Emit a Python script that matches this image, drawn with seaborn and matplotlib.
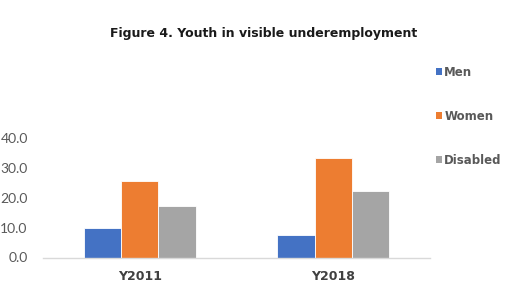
import matplotlib
matplotlib.use("Agg")
import matplotlib.pyplot as plt
import seaborn as sns
import pandas as pd
from matplotlib.patches import Patch

# values
years = ["Y2011", "Y2018"]
groups = ["Men", "Women", "Disabled"]
men = [9.8, 7.6]
women = [25.7, 33.3]
disabled = [17.4, 22.1]
colors = ["#4472C4", "#ED7D31", "#A5A5A5"]

df = pd.DataFrame({
    "year": years * 3,
    "group": ["Men"] * 2 + ["Women"] * 2 + ["Disabled"] * 2,
    "value": men + women + disabled,
})

sns.set_theme(style="white")
plt.rcParams['font.family'] = ['DejaVu Sans']

fig = plt.figure(figsize=(5.05, 2.86), dpi=100)
ax = fig.add_axes([43 / 505, 1 - 257.5 / 286, 387 / 505, 119.5 / 286])

sns.barplot(data=df, x="year", y="value", hue="group", hue_order=groups,
            palette=colors, width=0.58, edgecolor="white", linewidth=0.6,
            saturation=1, ax=ax, legend=False)

ax.set_xlim(-0.5, 1.5)
ax.set_ylim(0, 40)
ax.set_yticks([0, 10, 20, 30, 40])
ax.set_yticklabels([f"{v:.1f}" for v in [0, 10, 20, 30, 40]],
                   fontsize=10, color="#595959", family="Lato")
ax.tick_params(axis="y", length=0, pad=11)
ax.tick_params(axis="x", length=0, pad=9)
for lbl in ax.get_xticklabels():
    lbl.set_fontweight("bold")
    lbl.set_fontsize(9)
    lbl.set_color("#404040")
ax.set_xlabel("")
ax.set_ylabel("")
for s in ["top", "right", "left"]:
    ax.spines[s].set_visible(False)
ax.spines["bottom"].set_color("#D9D9D9")
ax.spines["bottom"].set_linewidth(1)

fig.text(264 / 505, 1 - 33 / 286, "Figure 4. Youth in visible underemployment",
         ha="center", va="center", fontsize=9, fontweight="bold", color="#1a1a1a")

handles = [Patch(facecolor=c, edgecolor="none") for c in colors]
leg = fig.legend(handles, groups, loc="upper left",
                 bbox_to_anchor=(436 / 505, 1 - 66 / 286), frameon=False,
                 borderaxespad=0, borderpad=0,
                 handlelength=0.55, handleheight=0.55, handletextpad=0.15,
                 labelspacing=2.62, prop={"weight": "bold", "size": 8.5})
for t in leg.get_texts():
    t.set_color("#595959")

fig.savefig("out.png", dpi=100)
